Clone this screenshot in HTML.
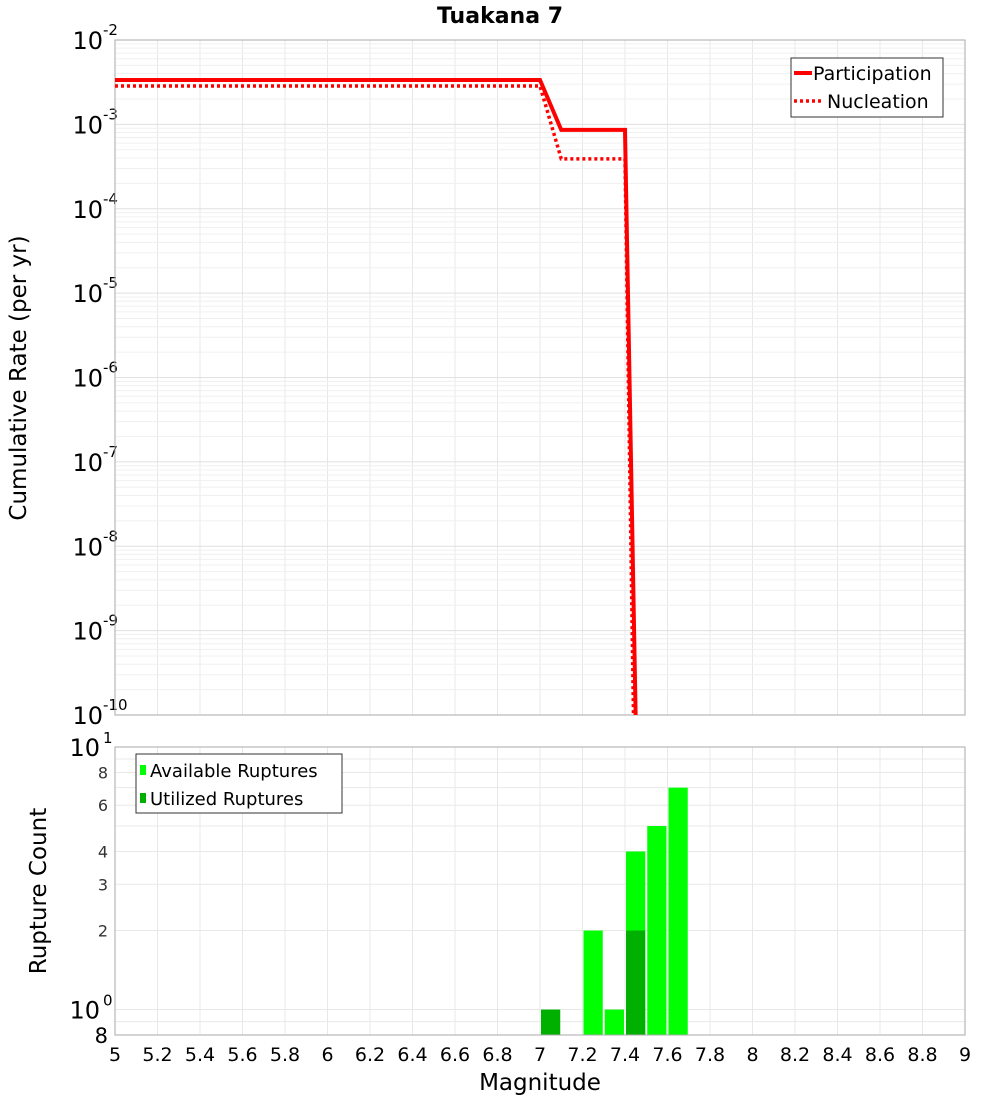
<!DOCTYPE html>
<html><head><meta charset="utf-8"><style>
body{margin:0;background:#fff;}
svg{display:block;font-family:"DejaVu Sans","Liberation Sans",sans-serif;}
</style></head><body>
<svg id="c" width="1000" height="1100"></svg>
<script>
const xTicks=[5,5.2,5.4,5.6,5.8,6,6.2,6.4,6.6,6.8,7,7.2,7.4,7.6,7.8,8,8.2,8.4,8.6,8.8,9];
const partMag=[5,7,7.1,7.4,7.45];
const partRate=[0.00336,0.00336,0.00086,0.00086,1e-10];
const nuclMag=[5,7,7.1,7.4,7.44];
const nuclRate=[0.00285,0.00285,0.00039,0.00039,1e-10];
const barMag=[7.05,7.25,7.35,7.45,7.55,7.65];
const availCount=[1,2,1,4,5,7];
const utilCount=[1,0,0,2,0,0];
const NS="http://www.w3.org/2000/svg";
const svg=document.getElementById('c');
function mk(t,a,p){const e=document.createElementNS(NS,t);for(const k in a)e.setAttribute(k,a[k]);(p||svg).appendChild(e);return e;}
const L=115,R=965;
const X=m=>L+(m-5)/4*(R-L);
const T1=40,B1=715;const Y1=v=>T1+(-2-Math.log10(v))/8*(B1-T1);
const T2=747,B2=1035;const lmin=Math.log10(0.8),lmax=1;const Y2=v=>B2-(Math.log10(v)-lmin)/(lmax-lmin)*(B2-T2);
let t=mk('text',{x:500,y:23,'text-anchor':'middle','font-size':22,'font-weight':'bold'});t.textContent='Tuakana 7';

mk('rect',{x:L,y:T1,width:R-L,height:B1-T1,fill:'#fff'});
for(const m of xTicks){mk('line',{x1:X(m),x2:X(m),y1:T1,y2:B1,stroke:'#e8e8e8'});mk('line',{x1:X(m),x2:X(m),y1:T2,y2:B2,stroke:'#e8e8e8'});}
for(let e=-10;e<-2;e++)for(let k=1;k<10;k++){const y=Y1(k*Math.pow(10,e));mk('line',{x1:L,x2:R,y1:y,y2:y,stroke:k==1?'#e0e0e0':'#f0f0f0'});}
for(let e=-10;e<=-2;e++){const y=Y1(Math.pow(10,e));
 const g=mk('text',{x:103,y:y+9,'text-anchor':'end','font-size':24});g.textContent='10';
 
 const s=mk('text',{x:103,y:y-5,'font-size':15});s.textContent=String(e);}
mk('rect',{x:L,y:T1,width:R-L,height:B1-T1,fill:'none',stroke:'#aaa'});
function path(ms,rs,dash){let d='';ms.forEach((m,i)=>{d+=(i?'L':'M')+X(m)+','+Y1(rs[i]);});
 const p=mk('path',{d:d,fill:'none',stroke:'#f00','stroke-width':dash?3.5:4,'stroke-dasharray':dash?'3,3':'none'});return p;}
let p=path(nuclMag,nuclRate,true);
p=path(partMag,partRate,false);
const lg=mk('g',{});
mk('rect',{x:791,y:58,width:152,height:59,fill:'#fff',stroke:'#333'},lg);
mk('line',{x1:794,x2:812,y1:73,y2:73,stroke:'#f00','stroke-width':4},lg);
mk('line',{x1:794,x2:824,y1:101,y2:101,stroke:'#f00','stroke-width':3.5,'stroke-dasharray':'3,3'},lg);
t=mk('text',{x:813,y:80,'font-size':19},lg);t.textContent='Participation';
t=mk('text',{x:827,y:108,'font-size':19},lg);t.textContent='Nucleation';
t=mk('text',{x:0,y:0,'font-size':23,'text-anchor':'middle',transform:'translate(26,378) rotate(-90)'});t.textContent='Cumulative Rate (per yr)';

[0.8,0.9,1,2,3,4,5,6,7,8,9,10].forEach(v=>{const y=Y2(v);mk('line',{x1:L,x2:R,y1:y,y2:y,stroke:'#e8e8e8'});});
const bw=X(5.1)-X(5)-2;
barMag.forEach((m,i)=>{
 const r=mk('rect',{x:X(m)-bw/2,y:Y2(availCount[i]),width:bw,height:B2-Y2(availCount[i]),fill:utilCount[i]>=availCount[i]?'#00b000':'#00ff00'});
 
 if(utilCount[i]>0&&utilCount[i]<availCount[i]){const u=mk('rect',{x:X(m)-bw/2,y:Y2(utilCount[i]),width:bw,height:B2-Y2(utilCount[i]),fill:'#00b000'});
 }
});
mk('rect',{x:L,y:T2,width:R-L,height:B2-T2,fill:'none',stroke:'#aaa'});
[[2,'2'],[3,'3'],[4,'4'],[6,'6'],[8,'8']].forEach(([v,s])=>{t=mk('text',{x:108,y:Y2(v)+6,'text-anchor':'end','font-size':16,fill:'#333'});t.textContent=s;});
[[10,'1'],[1,'0']].forEach(([v,s])=>{t=mk('text',{x:100,y:Y2(v)+9,'text-anchor':'end','font-size':24});t.textContent='10';
 t=mk('text',{x:103,y:Y2(v)-4,'font-size':15});t.textContent=s;});
t=mk('text',{x:108,y:1043,'text-anchor':'end','font-size':21});t.textContent='8';
xTicks.forEach(m=>{t=mk('text',{x:X(m),y:1061,'text-anchor':'middle','font-size':19});t.textContent=String(m);
 });
t=mk('text',{x:540,y:1090,'text-anchor':'middle','font-size':23});t.textContent='Magnitude';

t=mk('text',{x:0,y:0,'font-size':23,'text-anchor':'middle',transform:'translate(46,891) rotate(-90)'});t.textContent='Rupture Count';

const lg2=mk('g',{});
mk('rect',{x:136,y:754,width:206,height:59,fill:'#fff',stroke:'#333'},lg2);
mk('rect',{x:140,y:765,width:6,height:10,fill:'#00ff00'},lg2);
mk('rect',{x:140,y:793,width:6,height:10,fill:'#00b000'},lg2);
t=mk('text',{x:150,y:777,'font-size':18},lg2);t.textContent='Available Ruptures';
t=mk('text',{x:150,y:805,'font-size':18},lg2);t.textContent='Utilized Ruptures';
</script>
</body></html>
